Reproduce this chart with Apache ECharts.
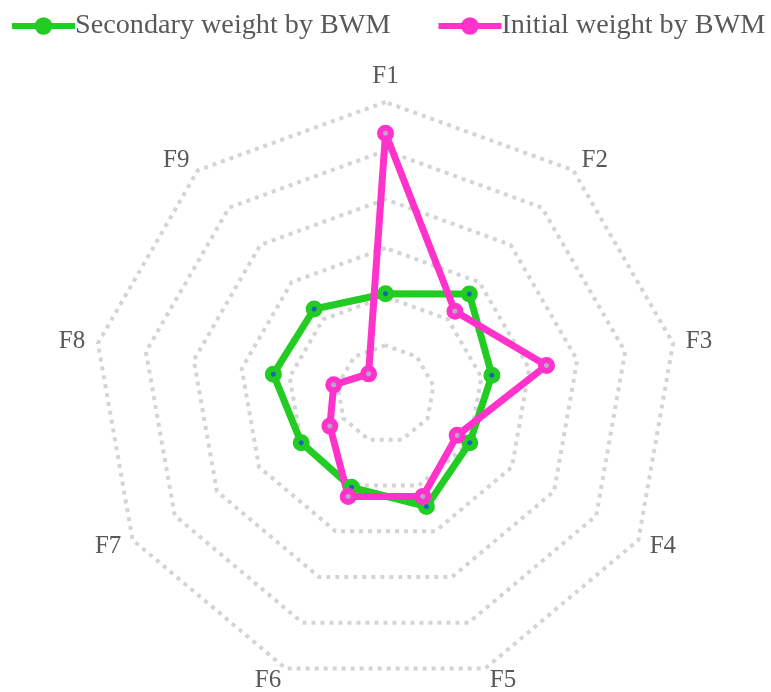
<!DOCTYPE html>
<html>
<head>
<meta charset="utf-8">
<script src="https://cdn.jsdelivr.net/npm/echarts@6/dist/echarts.min.js"></script>
<style>
  html, body { margin: 0; padding: 0; background: #fff; }
  #main { width: 771px; height: 692px; }
</style>
</head>
<body>
<div id="main"></div>
<script>
// criteria, read clockwise from the top
var factors = ['F1', 'F2', 'F3', 'F4', 'F5', 'F6', 'F7', 'F8', 'F9'];
var secondaryWeight = [0.103, 0.134, 0.111, 0.100, 0.123, 0.102, 0.100, 0.117, 0.114];
var initialWeight = [0.268, 0.111, 0.168, 0.085, 0.112, 0.112, 0.066, 0.054, 0.027];
var axisMax = 0.3;

// echarts radar runs counter-clockwise, so flip the order after F1
var order = [0, 8, 7, 6, 5, 4, 3, 2, 1];
function pick(arr) {
  return order.map(function (i) { return arr[i]; });
}

var chartDom = document.getElementById('main');
var myChart = echarts.init(chartDom);

var legendIcon = 'path://M0,6 L64,6 L64,12 L0,12 Z M32,0 A9,9 0 1,1 31.99,0 Z';

var option = {
  animation: false,
  legend: {
    top: 12,
    left: 12,
    right: 0,
    padding: 0,
    itemWidth: 63,
    itemHeight: 18,
    itemGap: 48,
    textStyle: {
      fontFamily: 'Liberation Serif',
      fontSize: 28.2,
      color: '#595959',
      padding: [0, 0, 0, -5]
    },
    data: [
      { name: 'Secondary weight by BWM', icon: legendIcon, itemStyle: { color: '#22cc22', borderWidth: 0 } },
      { name: 'Initial weight by BWM', icon: legendIcon, itemStyle: { color: '#ff33cc', borderWidth: 0 } }
    ]
  },
  radar: {
    center: ['50%', 394],
    radius: 292,
    startAngle: 90,
    shape: 'polygon',
    splitNumber: 6,
    nameGap: 13,
    axisName: {
      color: '#595959',
      fontFamily: 'Liberation Serif',
      fontSize: 25
    },
    indicator: pick(factors).map(function (f) {
      return { name: f, min: 0, max: axisMax };
    }),
    axisLine: { show: false },
    axisTick: { show: false },
    axisLabel: { show: false },
    splitArea: { show: false },
    splitLine: {
      lineStyle: { color: '#d4d4d4', width: 4, type: [4, 5] }
    }
  },
  series: [
    {
      type: 'radar',
      symbol: 'circle',
      symbolSize: 11,
      data: [
        {
          name: 'Secondary weight by BWM',
          value: pick(secondaryWeight),
          lineStyle: { color: '#22cc22', width: 7 },
          itemStyle: { color: '#1565c0', borderColor: '#22cc22', borderWidth: 6 }
        },
        {
          name: 'Initial weight by BWM',
          value: pick(initialWeight),
          lineStyle: { color: '#ff33cc', width: 7 },
          itemStyle: { color: '#b8a8c8', borderColor: '#ff33cc', borderWidth: 6 }
        }
      ]
    }
  ]
};

myChart.setOption(option);
</script>
</body>
</html>
